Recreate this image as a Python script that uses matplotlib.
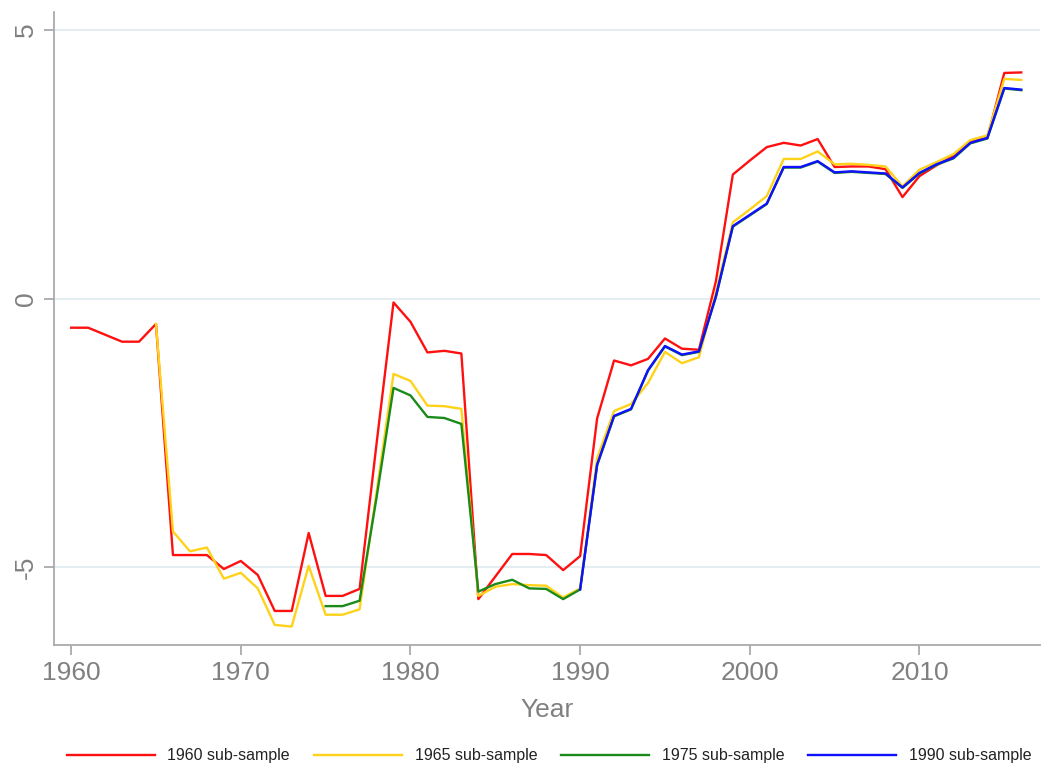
import numpy as np
import matplotlib
matplotlib.use("Agg")
import matplotlib.pyplot as plt

plt.rcParams['font.family'] = ['Liberation Sans', 'DejaVu Sans']

# Данные (оценки по рисунку)
years_1960 = list(range(1960, 2017))
vals_1960 = [-0.54, -0.54, -0.67, -0.80, -0.80, -0.47, -4.77, -4.77, -4.77, -5.03,
             -4.88, -5.14, -5.81, -5.81, -4.36, -5.53, -5.53, -5.40, -2.70, -0.07,
             -0.43, -1.00, -0.97, -1.02, -5.59, -5.17, -4.75, -4.75, -4.77, -5.05,
             -4.79, -2.23, -1.15, -1.24, -1.12, -0.74, -0.93, -0.95, 0.32, 2.31,
             2.57, 2.82, 2.90, 2.85, 2.97, 2.45, 2.46, 2.46, 2.41, 1.89,
             2.28, 2.48, 2.66, 2.93, 2.99, 4.20, 4.21]

years_1965 = list(range(1965, 2017))
vals_1965 = [-0.47, -4.33, -4.70, -4.63, -5.21, -5.10, -5.39, -6.07, -6.10, -4.97,
             -5.88, -5.88, -5.78, -3.60, -1.40, -1.53, -1.99, -2.00, -2.05, -5.53,
             -5.36, -5.31, -5.33, -5.34, -5.56, -5.39, -2.97, -2.09, -1.96, -1.57,
             -0.99, -1.20, -1.09, 0.11, 1.42, 1.66, 1.91, 2.60, 2.60, 2.74,
             2.50, 2.51, 2.49, 2.46, 2.09, 2.40, 2.54, 2.69, 2.95, 3.04,
             4.09, 4.07]

years_1975 = list(range(1975, 2017))
vals_1975 = [-5.72, -5.72, -5.62, -3.70, -1.66, -1.80, -2.20, -2.22, -2.33, -5.45,
             -5.31, -5.23, -5.39, -5.40, -5.59, -5.41, -3.10, -2.19, -2.06, -1.34,
             -0.89, -1.05, -0.99, 0.03, 1.34, 1.55, 1.76, 2.44, 2.44, 2.55,
             2.34, 2.36, 2.34, 2.32, 2.06, 2.33, 2.49, 2.61, 2.89, 2.98,
             3.91, 3.88]

years_1990 = list(range(1990, 2017))
vals_1990 = [-5.41, -3.09, -2.18, -2.05, -1.33, -0.88, -1.04, -0.98, 0.04, 1.35,
             1.56, 1.77, 2.45, 2.45, 2.56, 2.35, 2.37, 2.35, 2.33, 2.07,
             2.34, 2.50, 2.62, 2.90, 2.99, 3.92, 3.89]

fig = plt.figure(figsize=(10.42, 7.64), dpi=100)
ax = fig.add_axes([0.052, 0.156, 0.946, 0.828])

ax.plot(years_1960, vals_1960, color='#ff1010', lw=1.7, label='1960 sub-sample')
ax.plot(years_1965, vals_1965, color='#ffd21a', lw=1.7, label='1965 sub-sample')
ax.plot(years_1975, vals_1975, color='#1a8a1a', lw=1.7, label='1975 sub-sample')
ax.plot(years_1990, vals_1990, color='#1010ff', lw=1.7, label='1990 sub-sample')

ax.set_xlim(1959.0, 2017.1)
ax.set_ylim(-6.44, 5.33)
ax.set_xticks([1960, 1970, 1980, 1990, 2000, 2010])
ax.set_yticks([-5, 0, 5])
ax.set_yticklabels(['-5', '0', '5'], rotation=90, va='center')
ax.grid(axis='y', color='#e2ecf0', lw=1.3)
ax.set_axisbelow(True)

for s in ['top', 'right']:
    ax.spines[s].set_visible(False)
for s in ['left', 'bottom']:
    ax.spines[s].set_color('#aaaaaa')
    ax.spines[s].set_linewidth(1.3)
ax.tick_params(colors='#aaaaaa', labelcolor='#808080', labelsize=19, length=7, width=1.3)
ax.tick_params(axis='y', pad=5)
ax.tick_params(axis='x', pad=5)
ax.set_xlabel('Year', fontsize=19, color='#808080', labelpad=9)

fig.legend(loc='lower center', bbox_to_anchor=(0.527, -0.018), ncol=4, frameon=False,
           fontsize=11.5, handlelength=5.5, handletextpad=0.8, columnspacing=1.5,
           labelcolor='#222222')

plt.savefig('out.png', dpi=100)
